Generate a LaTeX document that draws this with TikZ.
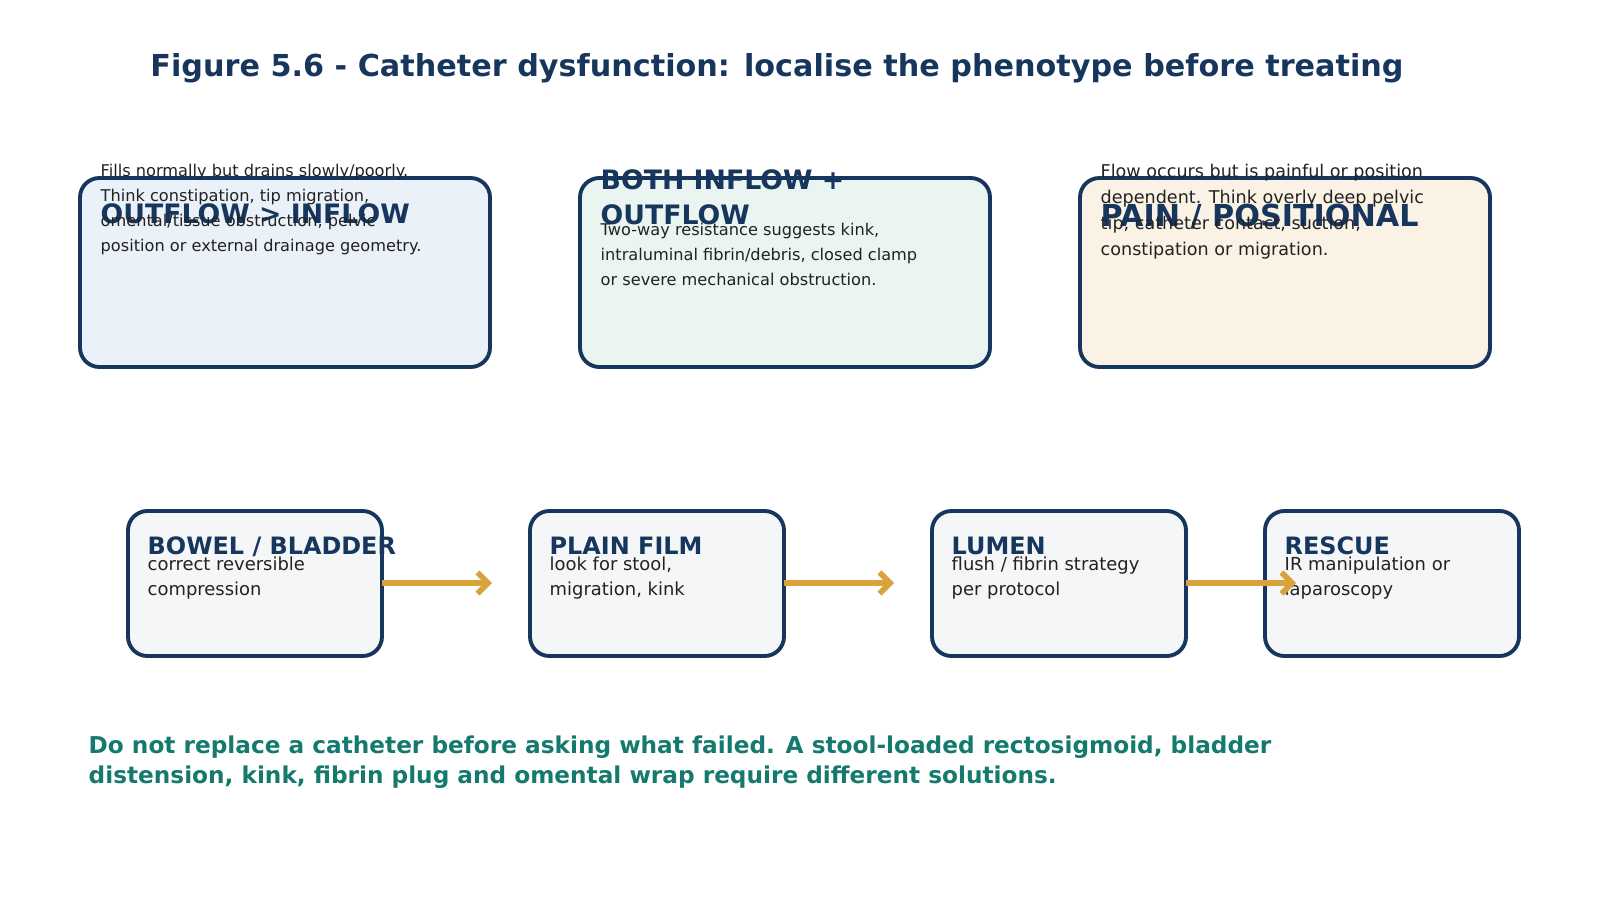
\documentclass[tikz,border=0pt]{standalone}
\usepackage{fontspec}
\setmainfont{DejaVu Sans}
\usetikzlibrary{arrows.meta, positioning}
\definecolor{navy}{HTML}{17365D}
\definecolor{bleupale}{HTML}{EAF1F8}
\definecolor{vertpale}{HTML}{EAF4F1}
\definecolor{sablepale}{HTML}{FAF2E5}
\definecolor{grispale}{HTML}{F4F6F8}
\definecolor{ocre}{HTML}{D9A23A}
\definecolor{sarcelle}{HTML}{147A6E}
\definecolor{texte}{HTML}{222222}
\tikzset{
  boite/.style={draw=navy, line width=1.1pt, rounded corners=5.5pt},
  titre/.style={anchor=base west, inner sep=0pt, text=navy, font=\bfseries\fontsize{7.6}{9.7}\selectfont, align=left},
  corps/.style={anchor=base west, inner sep=0pt, text=texte, font=\fontsize{4.6}{7.1}\selectfont, align=left},
  etape/.style={boite, fill=grispale},
  tetape/.style={titre, font=\bfseries\fontsize{6.8}{8}\selectfont},
  cetape/.style={corps, font=\fontsize{5.1}{7.1}\selectfont},
  fleche/.style={ocre, line width=1.6pt, -{Straight Barb[length=3pt,width=6pt]}}
}
\begin{document}
\begin{tikzpicture}[x=0.01cm, y=-0.01cm]
  \useasboundingbox (0,0) rectangle (1600,900);

  % === TITRE ===
  \node[anchor=base, inner sep=0pt, text=navy, font=\bfseries\fontsize{8.6}{10}\selectfont] (fig) at (777,77)
    {Figure 5.6 - Catheter dysfunction: localise the phenotype before treating};

  % === PHENOTYPES ===
  \draw[boite, fill=bleupale] (80,178) rectangle (490,367);
  \node[titre] (hOut) at (100,223) {OUTFLOW > INFLOW};
  \node[corps] (tOut) at (100,251) {Fills normally but drains slowly/poorly.\\Think constipation, tip migration,\\omental/tissue obstruction, pelvic\\position or external drainage geometry.};

  \draw[boite, fill=vertpale] (580,178) rectangle (990,367);
  \node[titre] (hBoth) at (600,224) {BOTH INFLOW +\\OUTFLOW};
  \node[corps] (tBoth) at (600,285) {Two-way resistance suggests kink,\\intraluminal fibrin/debris, closed clamp\\or severe mechanical obstruction.};

  \draw[boite, fill=sablepale] (1080,178) rectangle (1490,367);
  \node[titre, font=\bfseries\fontsize{8.6}{10}\selectfont] (hPain) at (1100,226) {PAIN / POSITIONAL};
  \node[corps, font=\fontsize{5}{7.3}\selectfont] (tPain) at (1100,255) {Flow occurs but is painful or position\\dependent. Think overly deep pelvic\\tip, catheter contact, suction,\\constipation or migration.};

  % === ETAPES ===
  \draw[etape] (128,511) rectangle (382,656);
  \node[cetape] (tBowel) at (147,595) {correct reversible\\compression};
  \node[tetape] (hBowel) at (147,554) {BOWEL / BLADDER};

  \draw[etape] (530,511) rectangle (784,656);
  \node[cetape] (tFilm) at (549,595) {look for stool,\\migration, kink};
  \node[tetape] (hFilm) at (549,554) {PLAIN FILM};

  \draw[etape] (932,511) rectangle (1186,656);
  \node[cetape] (tLumen) at (951,595) {flush / fibrin strategy\\per protocol};
  \node[tetape] (hLumen) at (951,554) {LUMEN};

  \draw[etape] (1265,511) rectangle (1519,656);
  \node[cetape] (tRescue) at (1284,595) {IR manipulation or\\laparoscopy};
  \node[tetape] (hRescue) at (1284,554) {RESCUE};

  \coordinate (d1) at (382,583);
  \coordinate (d2) at (784,583);
  \coordinate (d3) at (1186,583);
  \coordinate (a1) at (492,583);
  \coordinate (a2) at (894,583);
  \coordinate (a3) at (1296,583);
  \draw[fleche] (d1) -- (a1);
  \draw[fleche] (d2) -- (a2);
  \draw[fleche] (d3) -- (a3);

  % === NOTE ===
  \node[anchor=base west, inner sep=0pt, text=sarcelle, align=left, font=\bfseries\fontsize{6.6}{8.5}\selectfont] (note) at (88,783)
    {Do not replace a catheter before asking what failed. A stool-loaded rectosigmoid, bladder\\distension, kink, fibrin plug and omental wrap require different solutions.};
\end{tikzpicture}
\end{document}
